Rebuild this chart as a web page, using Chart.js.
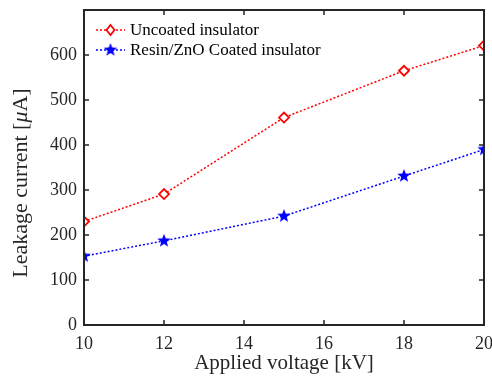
<!DOCTYPE html>
<html>
<head>
<meta charset="utf-8">
<script src="https://cdn.jsdelivr.net/npm/chart.js@4"></script>
<style>
    html, body { margin: 0; padding: 0; background: #fff; }
    #wrap { width: 492px; height: 385px; }
</style>
</head>
<body>
<div id="wrap"><canvas id="chart"></canvas></div>
<script>
// data
const voltages = [10, 12, 15, 18, 20];
const uncoated = [230, 291, 461, 565, 621];
const coated = [153, 187, 242, 331, 390];
const xTicks = [10, 12, 14, 16, 18, 20];
const yTicks = [0, 100, 200, 300, 400, 500, 600];
const seriesNames = ["Uncoated insulator", "Resin/ZnO Coated insulator"];

const AXIS_COLOR = "#262626";
const FONT = "'Liberation Serif', 'Times New Roman', serif";

// filled five point star, chart.js has none built in
function makeStar(r, color) {
    const c = document.createElement("canvas");
    c.width = c.height = r * 2 + 2;
    const ctx = c.getContext("2d");
    ctx.fillStyle = color;
    ctx.beginPath();
    for (let i = 0; i < 10; i++) {
        const rad = i % 2 === 0 ? r : r * 0.42;
        const a = -Math.PI / 2 + i * Math.PI / 5;
        const px = r + 1 + rad * Math.cos(a);
        const py = r + 1 + rad * Math.sin(a);
        i === 0 ? ctx.moveTo(px, py) : ctx.lineTo(px, py);
    }
    ctx.closePath();
    ctx.fill();
    return c;
}
const star = makeStar(7, "#0000ff");

// box, inward ticks, legend and y title (italic mu), like the matlab figure
const boxPlugin = {
    id: "box",
    afterDatasetsDraw(chart) {
        const {ctx, chartArea: a, scales} = chart;
        ctx.save();
        ctx.strokeStyle = AXIS_COLOR;
        ctx.lineWidth = 1.5;
        const len = 5;
        ctx.beginPath();
        xTicks.forEach(v => {
            const px = scales.x.getPixelForValue(v);
            ctx.moveTo(px, a.bottom); ctx.lineTo(px, a.bottom - len);
            ctx.moveTo(px, a.top); ctx.lineTo(px, a.top + len);
        });
        yTicks.forEach(v => {
            const py = scales.y.getPixelForValue(v);
            ctx.moveTo(a.left, py); ctx.lineTo(a.left + len, py);
            ctx.moveTo(a.right, py); ctx.lineTo(a.right - len, py);
        });
        ctx.stroke();
        ctx.lineWidth = 2;
        ctx.strokeRect(a.left, a.top, a.right - a.left, a.bottom - a.top);

        // legend
        chart.data.datasets.forEach((ds, i) => {
            const y = a.top + 20 + i * 20;
            const x0 = a.left + 12, x1 = a.left + 41;
            ctx.strokeStyle = ds.borderColor;
            ctx.lineWidth = ds.borderWidth;
            ctx.setLineDash(ds.borderDash);
            ctx.beginPath();
            ctx.moveTo(x0, y); ctx.lineTo(x1, y);
            ctx.stroke();
            ctx.setLineDash([]);
            const mx = (x0 + x1) / 2;
            if (i === 0) {
                ctx.fillStyle = "#fff";
                ctx.lineWidth = 1.8;
                ctx.beginPath();
                ctx.moveTo(mx, y - 5); ctx.lineTo(mx + 4, y); ctx.lineTo(mx, y + 5); ctx.lineTo(mx - 4, y);
                ctx.closePath();
                ctx.fill();
                ctx.stroke();
            } else {
                ctx.drawImage(star, mx - star.width / 2, y - star.height / 2);
            }
            ctx.fillStyle = "#000";
            ctx.font = "17px " + FONT;
            ctx.textBaseline = "middle";
            ctx.fillText(seriesNames[i], x1 + 5, y + 1);
        });

        // y title, drawn in parts so the mu can be italic
        const parts = [["Leakage current [", ""], ["\u03bc", "italic "], ["A]", ""]];
        ctx.translate(21, 183);
        ctx.rotate(-Math.PI / 2);
        ctx.fillStyle = AXIS_COLOR;
        ctx.textBaseline = "middle";
        let total = 0;
        parts.forEach(p => { ctx.font = p[1] + "22px " + FONT; total += ctx.measureText(p[0]).width; });
        let x = -total / 2;
        parts.forEach(p => {
            ctx.font = p[1] + "22px " + FONT;
            ctx.fillText(p[0], x, 0);
            x += ctx.measureText(p[0]).width;
        });
        ctx.restore();
    }
};

new Chart(document.getElementById("chart"), {
    type: "line",
    data: {
        datasets: [
            {
                label: seriesNames[0],
                data: voltages.map((v, i) => ({x: v, y: uncoated[i]})),
                borderColor: "#ff0000",
                borderWidth: 1.5,
                borderDash: [2, 2],
                pointStyle: "rectRot",
                pointRadius: 5,
                pointBorderWidth: 1.8,
                pointBackgroundColor: "#ffffff",
                pointBorderColor: "#ff0000",
                tension: 0
            },
            {
                label: seriesNames[1],
                data: voltages.map((v, i) => ({x: v, y: coated[i]})),
                borderColor: "#0000ff",
                borderWidth: 1.5,
                borderDash: [2, 2],
                pointStyle: star,
                tension: 0
            }
        ]
    },
    options: {
        responsive: true,
        maintainAspectRatio: false,
        animation: false,
        layout: {padding: {top: 10, right: 8, left: 0, bottom: 0}},
        plugins: {
            legend: {display: false},
            tooltip: {enabled: false}
        },
        scales: {
            x: {
                type: "linear",
                min: 10,
                max: 20,
                afterBuildTicks: s => { s.ticks = xTicks.map(v => ({value: v})); },
                afterFit: s => { s.height = 60; s.paddingLeft = 0; s.paddingRight = 0; },
                grid: {display: false, drawTicks: false},
                border: {display: false},
                ticks: {color: AXIS_COLOR, font: {family: FONT, size: 18}, padding: 8, maxRotation: 0},
                title: {display: true, text: "Applied voltage [kV]", color: AXIS_COLOR,
                    font: {family: FONT, size: 21}, padding: {top: 0, bottom: 9}}
            },
            y: {
                min: 0,
                max: 700,
                afterBuildTicks: s => { s.ticks = yTicks.map(v => ({value: v})); },
                afterFit: s => { s.width = 84; s.paddingTop = 0; s.paddingBottom = 0; },
                grid: {display: false, drawTicks: false},
                border: {display: false},
                ticks: {color: AXIS_COLOR, font: {family: FONT, size: 18}, padding: 7}
            }
        }
    },
    plugins: [boxPlugin]
});
</script>
</body>
</html>
